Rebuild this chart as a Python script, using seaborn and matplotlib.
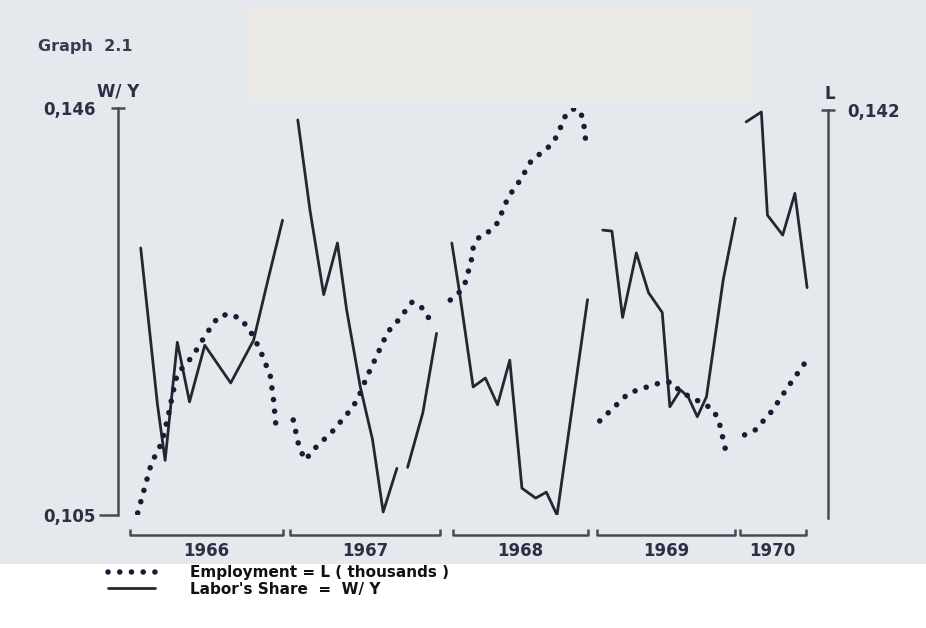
import numpy as np
import pandas as pd
import matplotlib
matplotlib.use("Agg")
import matplotlib.pyplot as plt
from matplotlib.ticker import FixedLocator, FixedFormatter
from matplotlib.patches import Rectangle
import seaborn as sns

# ---------------- data ----------------
# Labor's share W/Y (left axis) - one segment per year (1967 has a gap)
SHARE_1966_T = [1966.07, 1966.18, 1966.23, 1966.31, 1966.39, 1966.49, 1966.66, 1966.81, 1966.90, 1967.00]
SHARE_1966_V = [0.1319, 0.1161, 0.1105, 0.1224, 0.1164, 0.1221, 0.1183, 0.1226, 0.1284, 0.1347]
SHARE_1967A_T = [1967.10, 1967.18, 1967.27, 1967.36, 1967.42, 1967.51, 1967.59, 1967.66, 1967.75]
SHARE_1967A_V = [0.1448, 0.1357, 0.1272, 0.1324, 0.1257, 0.1179, 0.1126, 0.1053, 0.1097]
SHARE_1967B_T = [1967.82, 1967.92, 1968.01]
SHARE_1967B_V = [0.1098, 0.1153, 0.1233]
SHARE_1968_T = [1968.11, 1968.16, 1968.25, 1968.33, 1968.41, 1968.49, 1968.57, 1968.66, 1968.73, 1968.80, 1969.00]
SHARE_1968_V = [0.1324, 0.1275, 0.1179, 0.1188, 0.1161, 0.1206, 0.1077, 0.1067, 0.1073, 0.1050, 0.1267]
SHARE_1969_T = [1969.10, 1969.16, 1969.23, 1969.32, 1969.40, 1969.49, 1969.54, 1969.61, 1969.66, 1969.72, 1969.78, 1969.89, 1969.97]
SHARE_1969_V = [0.1337, 0.1336, 0.1249, 0.1314, 0.1274, 0.1254, 0.1159, 0.1176, 0.1169, 0.1149, 0.1169, 0.1287, 0.1349]
SHARE_1970_T = [1970.04, 1970.14, 1970.18, 1970.28, 1970.36, 1970.44]
SHARE_1970_V = [0.1446, 0.1456, 0.1352, 0.1332, 0.1374, 0.1279]

# Employment L (right axis)
EMPL_1966_T = [1966.05, 1966.14, 1966.21, 1966.25, 1966.28, 1966.31, 1966.41, 1966.50, 1966.58, 1966.65,
               1966.73, 1966.81, 1966.87, 1966.92, 1966.94, 1966.96]
EMPL_1966_V = [0.980, 1.000, 1.0085, 1.019, 1.028, 1.036, 1.043, 1.052, 1.059, 1.060,
               1.058, 1.051, 1.043, 1.035, 1.026, 1.013]
EMPL_1967_T = [1967.07, 1967.11, 1967.15, 1967.20, 1967.33, 1967.44, 1967.49, 1967.55, 1967.62, 1967.69,
               1967.75, 1967.85, 1967.91, 1967.99]
EMPL_1967_V = [1.0174, 1.0061, 1.0013, 1.0053, 1.0130, 1.0210, 1.0254, 1.0343, 1.0435, 1.0528,
               1.0568, 1.0648, 1.0628, 1.0556]
EMPL_1968_T = [1968.10, 1968.16, 1968.20, 1968.24, 1968.25, 1968.29, 1968.35, 1968.41, 1968.48, 1968.56,
               1968.63, 1968.76, 1968.80, 1968.86, 1968.92, 1968.97, 1968.99]
EMPL_1968_V = [1.0656, 1.0688, 1.0729, 1.0821, 1.0865, 1.0910, 1.0930, 1.0966, 1.1070, 1.1139,
               1.1215, 1.1279, 1.1316, 1.1404, 1.1428, 1.1392, 1.1287]
EMPL_1969_T = [1969.08, 1969.27, 1969.45, 1969.55, 1969.61, 1969.74, 1969.82, 1969.86, 1969.91]
EMPL_1969_V = [1.0170, 1.0282, 1.0319, 1.0327, 1.0287, 1.0246, 1.0218, 1.0174, 1.0041]
EMPL_1970_T = [1970.03, 1970.10, 1970.21, 1970.31, 1970.43]
EMPL_1970_V = [1.0114, 1.0134, 1.0210, 1.0303, 1.0407]

# year brackets on the time axis
YEARS = ["1966", "1967", "1968", "1969", "1970"]
YEAR_START = [1966.00, 1967.05, 1968.12, 1969.06, 1970.00]
YEAR_END = [1967.00, 1968.03, 1969.00, 1969.97, 1970.43]

# axis ticks
LEFT_TICKS = [0.105, 0.146]
LEFT_LABELS = ["0,105", "0,146"]
RIGHT_TICKS = [0.978, 1.142]
RIGHT_LABELS = ["0,978", "0,142"]

TITLE = "Graph  2.1"
LEGEND_LABELS = ["Employment = L ( thousands )", "Labor's Share  =  W/ Y"]

# ---------------- frames ----------------
def frame(segs):
    rows = []
    for name, t, v in segs:
        for a, b in zip(t, v):
            rows.append({"seg": name, "t": a, "v": b})
    return pd.DataFrame(rows)

share_df = frame([("1966", SHARE_1966_T, SHARE_1966_V), ("1967a", SHARE_1967A_T, SHARE_1967A_V),
                  ("1967b", SHARE_1967B_T, SHARE_1967B_V), ("1968", SHARE_1968_T, SHARE_1968_V),
                  ("1969", SHARE_1969_T, SHARE_1969_V), ("1970", SHARE_1970_T, SHARE_1970_V)])
empl_df = frame([("1966", EMPL_1966_T, EMPL_1966_V), ("1967", EMPL_1967_T, EMPL_1967_V),
                 ("1968", EMPL_1968_T, EMPL_1968_V), ("1969", EMPL_1969_T, EMPL_1969_V),
                 ("1970", EMPL_1970_T, EMPL_1970_V)])

# ---------------- figure ----------------
sns.set_theme(style="white")
plt.rcParams["font.family"] = ["DejaVu Sans"]

W, H = 926, 628
fig = plt.figure(figsize=(W / 100, H / 100), dpi=100, facecolor="white")
fig.patches.append(Rectangle((0, 1 - 564 / H), 1, 564 / H, transform=fig.transFigure,
                             facecolor="#e5e9ed", edgecolor="none", zorder=-10))
fig.patches.append(Rectangle((245 / W, 1 - 100 / H), (752 - 245) / W, 92 / H, transform=fig.transFigure,
                             facecolor="#ebe9e6", edgecolor="none", zorder=-9))

ax = fig.add_axes([118 / W, 113 / H, 710 / W, 407 / H])
ax.patch.set_alpha(0)
ax2 = ax.twinx()
ax2.patch.set_alpha(0)

INK = "#262630"
LABEL_INK = "#2e2e45"
AXIS_INK = "#4a4a55"

sns.lineplot(data=share_df, x="t", y="v", units="seg", estimator=None, sort=False,
             color=INK, lw=2.0, ax=ax, label=None)
sns.lineplot(data=empl_df, x="t", y="v", units="seg", estimator=None, sort=False,
             color="#181c35", lw=4.0, linestyle=(0, (0.01, 2.1)), dash_capstyle="round",
             ax=ax2, label=None)

ax.set_xlim(1965.921, 1970.577)
ax.set_ylim(0.105, 0.146)
ax2.set_ylim(0.9792, 1.1428)
for a in (ax, ax2):
    a.set_xlabel("")
    a.set_ylabel("")
    a.set_xticks([])
    a.grid(False)

# spines
for s in ("top", "bottom", "right"):
    ax.spines[s].set_visible(False)
for s in ("top", "bottom", "left"):
    ax2.spines[s].set_visible(False)
ax.spines["left"].set_bounds(LEFT_TICKS[0], LEFT_TICKS[1])
ax.spines["left"].set_color(AXIS_INK)
ax.spines["left"].set_linewidth(1.8)
ax2.spines["right"].set_bounds(RIGHT_TICKS[0], RIGHT_TICKS[1])
ax2.spines["right"].set_color(AXIS_INK)
ax2.spines["right"].set_linewidth(1.8)

# ticks: bottom value as major (outward), top value as minor (cap)
FS = 12
tick_font = dict(fontsize=FS, fontweight="bold", color=LABEL_INK)
ax.yaxis.set_major_locator(FixedLocator([LEFT_TICKS[0]]))
ax.yaxis.set_major_formatter(FixedFormatter([LEFT_LABELS[0]]))
ax.yaxis.set_minor_locator(FixedLocator([LEFT_TICKS[1]]))
ax.yaxis.set_minor_formatter(FixedFormatter([LEFT_LABELS[1]]))
ax.tick_params(axis="y", which="major", direction="out", length=14, width=1.8, color=AXIS_INK, pad=2, left=True)
ax.tick_params(axis="y", which="minor", direction="inout", length=10, width=1.8, color=AXIS_INK, pad=11, left=True)
ax2.yaxis.set_major_locator(FixedLocator([RIGHT_TICKS[0]]))
ax2.yaxis.set_major_formatter(FixedFormatter([RIGHT_LABELS[0]]))
ax2.yaxis.set_minor_locator(FixedLocator([RIGHT_TICKS[1]]))
ax2.yaxis.set_minor_formatter(FixedFormatter([RIGHT_LABELS[1]]))
ax2.tick_params(axis="y", which="major", direction="out", length=14, width=1.8, color=AXIS_INK, pad=1, right=True)
ax2.tick_params(axis="y", which="minor", direction="inout", length=10, width=1.8, color=AXIS_INK, pad=9, right=True)
for lab in ax.get_yticklabels(which="both") + ax2.get_yticklabels(which="both"):
    lab.set_fontsize(FS)
    lab.set_fontweight("bold")
    lab.set_color(LABEL_INK)

# axis names
ax.text(0.0, 1.04, "W/ Y", transform=ax.transAxes, ha="center", va="center", **tick_font)
ax.text(1.003, 1.035, "L", transform=ax.transAxes, ha="center", va="center", **tick_font)

# year brackets
xt = ax.get_xaxis_transform()
for lab, s, e in zip(YEARS, YEAR_START, YEAR_END):
    ax.plot([s, s, e, e], [-0.034, -0.049, -0.049, -0.034], transform=xt, clip_on=False,
            color=AXIS_INK, lw=1.8, solid_capstyle="butt")
    ax.text((s + e) / 2, -0.088, lab, transform=xt, ha="center", va="center", **tick_font)

# title
fig.text(38 / W, 1 - 46 / H, TITLE, ha="left", va="center", fontsize=11.5, fontweight="bold", color="#3a3a50")

# legend
handles = [ax2.lines[0], ax.lines[0]]
leg = fig.legend(handles, LEGEND_LABELS, loc="upper left", bbox_to_anchor=(108 / W, 1 - 565 / H),
                 frameon=False, borderpad=0, borderaxespad=0, handlelength=3.1, handletextpad=2.3,
                 labelspacing=0.12, prop={"size": 11, "weight": "bold"})
for t in leg.get_texts():
    t.set_color("#111111")

fig.savefig("out.png", dpi=100, facecolor=fig.get_facecolor())
